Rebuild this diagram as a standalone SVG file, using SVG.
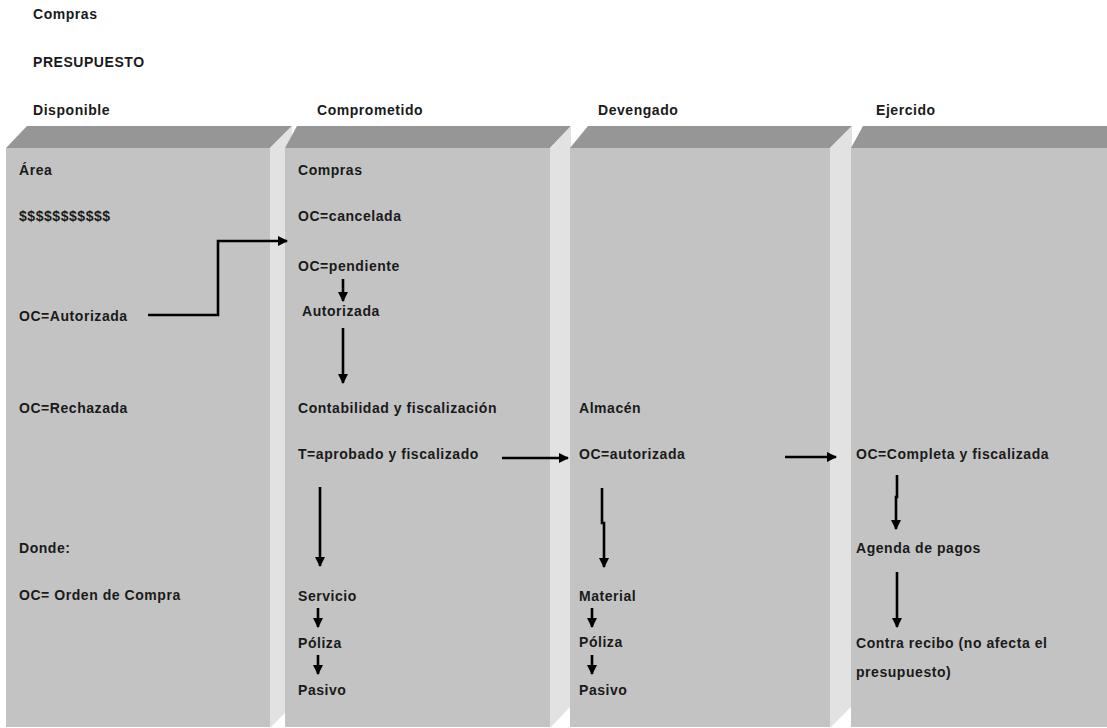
<svg xmlns="http://www.w3.org/2000/svg" width="1107" height="728" viewBox="0 0 1107 728">
<defs>
<style>
.front{fill:#c3c3c3}
.top{fill:#969696}
.side{fill:#e2e2e2}
text{font-family:"Liberation Sans",Arial,sans-serif;font-size:14px;font-weight:bold;fill:#1a1a1a;letter-spacing:0.55px}
.ln{stroke:#000;stroke-width:2.6;fill:none}
</style>
<marker id="ah" viewBox="0 0 10 10" refX="9" refY="5" markerWidth="4" markerHeight="4" markerUnits="strokeWidth" orient="auto">
<path d="M0,0 L10,5 L0,10 z" fill="#000"/>
</marker>
</defs>
<rect width="1107" height="728" fill="#fff"/>
<g id="header">
<text x="33" y="19">Compras</text>
<text x="33" y="67">PRESUPUESTO</text>
<text x="33" y="115">Disponible</text>
<text x="317" y="115">Comprometido</text>
<text x="598" y="115">Devengado</text>
<text x="876" y="115">Ejercido</text>
</g>
<g id="col-disponible">
<rect class="front" x="6" y="148" width="265" height="579"/>
<polygon class="top" points="6,148 27,126 292,126 270,148"/>
<polygon class="side" points="270,148 292,126 292,706 270,728"/>
<text x="19" y="175">Área</text>
<text x="19" y="221">$$$$$$$$$$$</text>
<text x="19" y="321">OC=Autorizada</text>
<text x="19" y="413">OC=Rechazada</text>
<text x="19" y="553">Donde:</text>
<text x="19" y="600">OC= Orden de Compra</text>
</g>
<g id="col-comprometido">
<rect class="front" x="285" y="148" width="266" height="579"/>
<polygon class="top" points="285,148 297,126 571,126 550,148"/>
<polygon class="side" points="550,148 571,126 571,706 550,728"/>
<text x="298" y="175">Compras</text>
<text x="298" y="221">OC=cancelada</text>
<text x="298" y="271">OC=pendiente</text>
<text x="302" y="316">Autorizada</text>
<text x="298" y="413">Contabilidad y fiscalización</text>
<text x="298" y="459">T=aprobado y fiscalizado</text>
<text x="298" y="601">Servicio</text>
<text x="298" y="648">Póliza</text>
<text x="298" y="695">Pasivo</text>
</g>
<g id="col-devengado">
<rect class="front" x="570" y="148" width="261" height="579"/>
<polygon class="top" points="570,148 588,126 852,126 830,148"/>
<polygon class="side" points="830,148 852,126 852,706 830,728"/>
<text x="579" y="413">Almacén</text>
<text x="579" y="459">OC=autorizada</text>
<text x="579" y="601">Material</text>
<text x="579" y="647">Póliza</text>
<text x="579" y="695">Pasivo</text>
</g>
<g id="col-ejercido">
<rect class="front" x="851" y="148" width="256" height="579"/>
<polygon class="top" points="851,148 863,126 1107,126 1107,148"/>
<text x="856" y="459">OC=Completa y fiscalizada</text>
<text x="856" y="553">Agenda de pagos</text>
<text x="856" y="648">Contra recibo (no afecta el</text>
<text x="856" y="677">presupuesto)</text>
</g>
<g id="connectors">
<polyline class="ln" points="148,315 218,315 218,241 287,241" marker-end="url(#ah)"/>
<line class="ln" x1="343" y1="279" x2="343" y2="301" marker-end="url(#ah)"/>
<line class="ln" x1="343" y1="328" x2="343" y2="383" marker-end="url(#ah)"/>
<line class="ln" x1="502" y1="458" x2="568" y2="458" marker-end="url(#ah)"/>
<line class="ln" x1="320" y1="487" x2="320" y2="566" marker-end="url(#ah)"/>
<line class="ln" x1="785" y1="457" x2="836" y2="457" marker-end="url(#ah)"/>
<polyline class="ln" points="602,488 602,523 604,523 604,567" marker-end="url(#ah)"/>
<polyline class="ln" points="897,475 897,497 896,497 896,529" marker-end="url(#ah)"/>
<line class="ln" x1="897" y1="572" x2="897" y2="627" marker-end="url(#ah)"/>
<line class="ln" x1="318" y1="608" x2="318" y2="627" marker-end="url(#ah)"/>
<line class="ln" x1="318" y1="655" x2="318" y2="674" marker-end="url(#ah)"/>
<line class="ln" x1="592" y1="608" x2="592" y2="627" marker-end="url(#ah)"/>
<line class="ln" x1="592" y1="655" x2="592" y2="674" marker-end="url(#ah)"/>
</g>
</svg>
